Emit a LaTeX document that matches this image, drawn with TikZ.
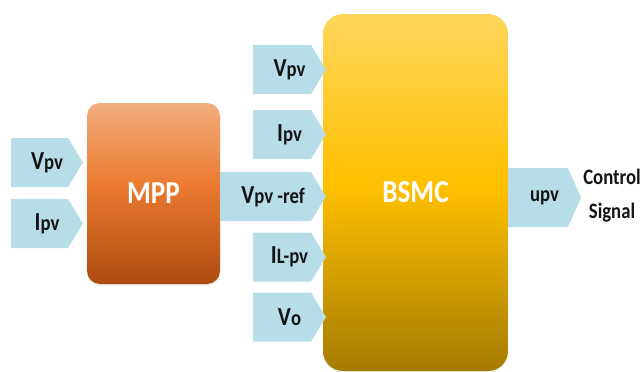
\documentclass[tikz,border=0pt]{standalone}
\usepackage{fontspec}
\setmainfont{Carlito}[FakeStretch=0.85]
\usetikzlibrary{shapes.symbols,shadows}

\definecolor{mppTop}{HTML}{F2AE7E}
\definecolor{mppMid}{HTML}{EC7A30}
\definecolor{mppBot}{HTML}{AE4A10}
\definecolor{bsmcTop}{HTML}{FFD65C}
\definecolor{bsmcMid}{HTML}{FFC000}
\definecolor{bsmcBot}{HTML}{A67B00}
\definecolor{sigblue}{HTML}{B7DEE8}
\definecolor{txt}{HTML}{141414}

\pgfdeclareverticalshading{mppshade}{100bp}{color(0bp)=(mppBot); color(25bp)=(mppBot);
  color(52.5bp)=(mppMid); color(75bp)=(mppTop); color(100bp)=(mppTop)}
\pgfdeclareverticalshading{bsmcshade}{100bp}{color(0bp)=(bsmcBot); color(25bp)=(bsmcBot);
  color(51bp)=(bsmcMid); color(75bp)=(bsmcTop); color(100bp)=(bsmcTop)}

\newcommand{\sml}[1]{{\fontsize{22}{22}\selectfont #1}}

\tikzset{
  block/.style={draw=none, inner sep=0pt, outer sep=0pt, text=white,
    font=\bfseries\fontsize{32}{32}\selectfont,
    drop shadow={shadow xshift=0pt, shadow yshift=-2pt, opacity=0.12}},
  sig/.style={signal, signal to=east, signal pointer angle=117,
    fill=sigblue, draw=none, inner sep=0pt, outer sep=0pt, text=txt,
    minimum height=49pt, font=\bfseries\fontsize{26}{26}\selectfont,
    execute at begin node={\hspace*{#1}}},
  sig/.default=15pt
}

\begin{document}
\begin{tikzpicture}[x=1pt,y=-1pt]
\useasboundingbox (0,0) rectangle (643,372);

% blocks
\node[block, rounded corners=13pt, minimum width=133pt, minimum height=181pt,
      shading=mppshade] (mpp) at (153.5,193.5) {MPP};
\node[block, rounded corners=20pt, minimum width=185pt, minimum height=357pt,
      shading=bsmcshade] (bsmc) at (415.5,192.5) {BSMC};

% inputs of MPP
\node[sig, minimum width=72pt] (mppV) at (39.5,162.5) {V\sml{pv}};
\node[sig, minimum width=72pt] (mppI) at (39.5,223.5) {I\sml{pv}};

% inputs of BSMC
\node[sig, minimum width=73pt]  (bsV)   at (282,69.5)    {V\sml{pv}};
\node[sig, minimum width=73pt]  (bsI)   at (282,134.5)   {I\sml{pv}};
\node[sig, minimum width=106pt] (bsRef) at (265.5,196.5) {V\sml{pv -ref}};
\node[sig, minimum width=73pt]  (bsIL)  at (282,257)     {I\sml{L-pv}};
\node[sig, minimum width=73pt]  (bsVo)  at (282,317)     {V\sml{o}};

% output
\node[sig=13pt, minimum width=73pt, minimum height=59pt, signal pointer angle=132]
      (upv) at (538,197.5) {\sml{upv}};
\node[text=txt, align=center, font=\bfseries\fontsize{22}{34}\selectfont]
      (ctrl) at (612,196) {Control\\Signal};
\end{tikzpicture}
\end{document}
